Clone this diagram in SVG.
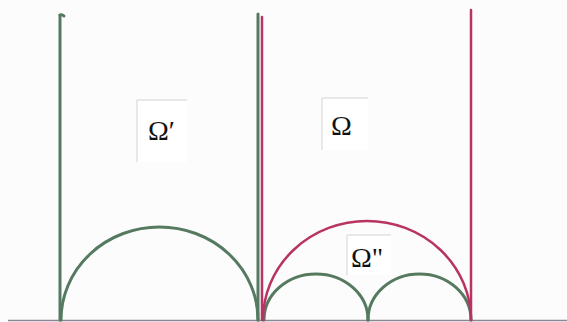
<svg xmlns="http://www.w3.org/2000/svg" width="567" height="322" viewBox="0 0 567 322">
<style>
.g{fill:none;stroke:#557a60;stroke-width:3;stroke-linecap:round}
.r{fill:none;stroke:#b83462;stroke-width:2.5;stroke-linecap:round}
.base{fill:none;stroke:#8d8593;stroke-width:1.5}
.bx{fill:none;stroke:#d4d4d4;stroke-width:1}
.lbl{font-family:"Liberation Serif","Times New Roman",serif;font-size:28px;fill:#111}
</style>
<rect width="567" height="322" fill="#fcfcfc"/>
<g id="connectors">
<line class="base" x1="8" y1="320.5" x2="567" y2="320.5"/>
<path class="g" d="M60,15 V320"/>
<path class="g" d="M60,15 q2,-1 4,1"/>
<path class="g" d="M258,14 V320"/>
<path class="r" d="M262,17 V320"/>
<path class="r" d="M471,10 V320"/>
<path class="g" d="M61,320 A98.5,93 0 0 1 258,320"/>
<path class="g" d="M264,320 A52,46 0 0 1 368,320"/>
<path class="g" d="M368,320 A51.5,46 0 0 1 471,320"/>
<path class="r" d="M263,320 A104,99 0 0 1 471,320"/>
</g>
<g id="omega-prime">
<rect x="137" y="100" width="50" height="62" fill="#fff"/>
<polyline class="bx" points="137,162 137,100 187,100"/>
<text class="lbl" x="148" y="140">Ω′</text>
</g>
<g id="omega">
<rect x="322" y="98" width="46" height="52" fill="#fff"/>
<polyline class="bx" points="322,150 322,98 368,98"/>
<text class="lbl" x="331" y="135">Ω</text>
</g>
<g id="omega-double">
<rect x="347" y="235" width="44" height="40" fill="#fff"/>
<polyline class="bx" points="347,275 347,235 391,235"/>
<text class="lbl" x="351" y="267">Ω"</text>
</g>
</svg>
